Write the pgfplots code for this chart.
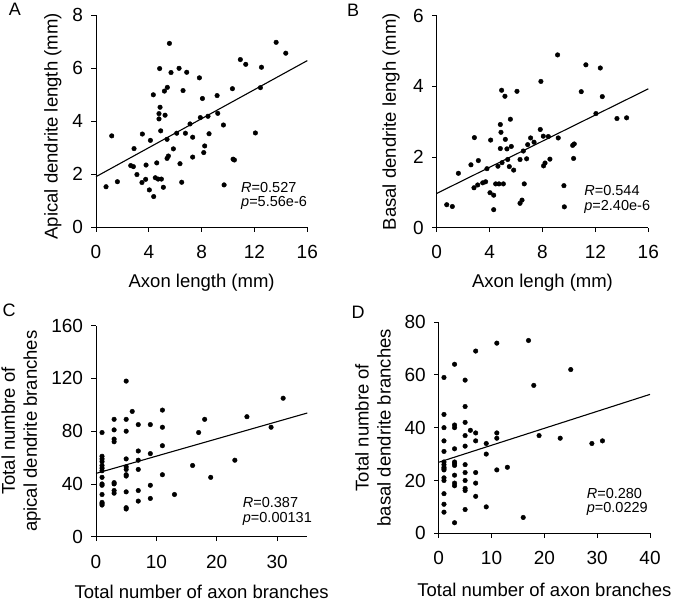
\documentclass[border=0pt]{standalone}
\usepackage{fontspec}
\setmainfont{Liberation Sans}
\usepackage{pgfplots}
\pgfplotsset{compat=1.18}
\pgfplotsset{panel/.style={
  scale only axis,
  anchor=south west,
  axis lines=left,
  axis line style={-, line width=0.9pt, black},
  tick align=outside,
  major tick length=4.5pt,
  tick style={line width=0.9pt, black},
  /pgf/number format/assume math mode=true,
  ticklabel style={font=\fontsize{19}{22}\selectfont},
  xticklabel style={yshift=-10pt},
  yticklabel style={xshift=-5pt},
  label style={font=\fontsize{18.5}{22}\selectfont},
  clip=false,
},
dots/.style={only marks, mark=*, mark size=2.3pt, black},
fit/.style={no marks, line width=1.1pt, black},
}
\tikzset{
ann/.style={anchor=base west, font=\fontsize{14.5}{16}\selectfont, inner sep=0pt},
plabel/.style={font=\fontsize{18}{20}\selectfont, inner sep=0pt},
}
\begin{document}
\begin{tikzpicture}
\path[use as bounding box] (0,0) rectangle (675pt,-601pt);
\node[plabel] at (15pt,-9pt) {A};
\node[plabel] at (353pt,-10pt) {B};
\node[plabel] at (9pt,-310pt) {C};
\node[plabel] at (358pt,-312pt) {D};
% ---------------- A
\begin{axis}[panel, at={(96pt,-227.3pt)}, width=211.3pt, height=212pt,
  xmin=0, xmax=16, ymin=0, ymax=8, xtick={0,4,8,12,16}, ytick={0,2,4,6,8},
  xlabel={Axon length (mm)}, ylabel={Apical dendrite length (mm)},
  xlabel style={at={(axis description cs:0.5,-0.263)}, anchor=center},
  ylabel style={at={(axis description cs:-0.204,0.476)}, anchor=center}]
\addplot[dots] coordinates {
(0.76,1.53) (1.19,3.45) (1.62,1.72) (2.63,2.33) (2.83,2.29) (2.88,2.97)
(3.10,1.99) (3.51,3.52) (3.48,1.69) (3.79,2.35) (3.76,1.81) (4.04,1.41)
(4.12,3.28) (4.34,5.00) (4.37,1.16) (4.49,1.87) (4.60,2.43) (4.70,1.82)
(4.82,5.99) (4.85,4.53) (4.77,4.29) (4.77,4.09) (4.90,3.64) (4.95,1.82)
(5.10,1.51) (5.18,5.14) (5.23,4.23) (5.40,5.28) (5.38,3.32) (5.38,2.60)
(5.48,2.69) (5.56,6.94) (5.68,5.84) (5.86,2.96) (6.11,3.55) (6.29,6.00)
(6.36,2.40) (6.49,1.70) (6.59,5.16) (6.77,3.55) (6.87,5.85) (7.12,3.90)
(7.32,3.40) (7.32,2.65) (7.83,5.64) (7.90,4.14) (8.06,4.86) (8.16,2.82)
(8.23,3.07) (8.48,4.19) (8.56,3.53) (9.17,4.97) (9.22,4.30) (9.65,3.86)
(9.70,1.60) (10.33,5.23) (10.38,2.57) (10.48,2.54) (10.93,6.33) (11.34,6.15)
(12.07,3.56) (12.45,5.27) (12.53,6.04) (13.64,6.98) (14.37,6.57)};
\addplot[fit] coordinates {(0,1.91) (16,6.29)};
\node[ann] at (axis cs:10.98,1.33) {\textit{R}=0.527};
\node[ann] at (axis cs:10.98,0.77) {\textit{p}=5.56e-6};
\end{axis}
% ---------------- B
\begin{axis}[panel, at={(436.7pt,-227.7pt)}, width=211.6pt, height=212pt,
  xmin=0, xmax=16, ymin=0, ymax=6, xtick={0,4,8,12,16}, ytick={0,2,4,6},
  xlabel={Axon lengh (mm)}, ylabel={Basal dendrite lengh (mm)},
  xlabel style={at={(axis description cs:0.5,-0.26)}, anchor=center},
  ylabel style={at={(axis description cs:-0.216,0.5)}, anchor=center}]
\addplot[dots] coordinates {
(0.76,0.65) (1.18,0.60) (1.64,1.54) (2.59,1.78) (2.82,1.13) (2.85,2.55)
(3.10,1.21) (3.15,1.90) (3.48,1.27) (3.70,1.30) (3.80,1.67) (4.03,0.99)
(4.08,2.48) (4.31,0.92) (4.31,0.51) (4.46,1.24) (4.63,1.74) (4.71,1.24)
(4.81,2.24) (4.81,2.92) (4.86,2.70) (4.91,3.89) (4.94,1.84) (5.04,1.24)
(5.16,3.72) (5.19,2.50) (5.31,2.23) (5.37,1.93) (5.49,1.73) (5.57,3.07)
(5.64,2.30) (5.82,1.63) (6.07,3.86) (6.30,1.93) (6.30,0.69) (6.45,0.78)
(6.55,2.17) (6.62,1.24) (6.80,1.95) (6.88,2.35) (7.10,2.54) (7.36,2.42)
(7.83,2.78) (7.88,4.14) (8.06,2.59) (8.08,1.75) (8.19,1.83) (8.44,2.58)
(8.56,1.94) (9.19,2.54) (9.14,4.89) (9.62,1.19) (9.65,0.59) (10.28,2.33)
(10.40,2.37) (10.35,1.96) (10.93,3.85) (11.28,4.61) (12.04,3.23) (12.37,4.52)
(12.52,3.71) (13.63,3.09) (14.36,3.11)};
\addplot[fit] coordinates {(0,0.97) (16,3.93)};
\node[ann] at (axis cs:11.15,0.917) {\textit{R}=0.544};
\node[ann] at (axis cs:11.15,0.49) {\textit{p}=2.40e-6};
\end{axis}
% ---------------- C
\begin{axis}[panel, at={(96pt,-536.7pt)}, width=211.3pt, height=211pt,
  xmin=0, xmax=35, ymin=0, ymax=160, xtick={0,10,20,30}, ytick={0,40,80,120,160},
  xlabel={Total number of axon branches},
  ylabel={Total numbre of\\apical dendrite branches},
  xlabel style={at={(axis description cs:0.5,-0.262)}, anchor=center},
  ylabel style={at={(axis description cs:-0.355,0.5)}, anchor=center, align=center}]
\addplot[dots] coordinates {
(1,79) (1,61) (1,59) (1,57) (1,54) (1,52) (1,50) (1,45) (1,40) (1,39) (1,32) (1,26) (1,25) (1,24)
(3,89) (3,81) (3,74) (3,72) (3,41) (3,40) (3,35) (3,33)
(5,118) (5,89) (5,80) (5,59) (5,53) (5,51) (5,47) (5,46) (5,34) (5,22) (5,21)
(6,95)
(7,85) (7,65) (7,58) (7,51) (7,35) (7,27)
(9,85) (9,63) (9,39) (9,29)
(11,96) (11,83) (11,69) (11,47)
(13,32) (16,54) (17,79) (18,89) (19,45) (23,58) (25,91) (29,83) (31,105)};
\addplot[fit] coordinates {(0,48) (35,93.8)};
\node[ann] at (axis cs:24.3,22.3) {\textit{R}=0.387};
\node[ann] at (axis cs:24.3,10.6) {\textit{p}=0.00131};
\end{axis}
% ---------------- D
\begin{axis}[panel, at={(438.7pt,-533.3pt)}, width=211.3pt, height=211.3pt,
  xmin=0, xmax=40, ymin=0, ymax=80, xtick={0,10,20,30,40}, ytick={0,20,40,60,80},
  xlabel={Total number of axon branches},
  ylabel={Total numbre of\\basal dendrite branches},
  xlabel style={at={(axis description cs:0.5,-0.268)}, anchor=center},
  ylabel style={at={(axis description cs:-0.311,0.5)}, anchor=center, align=center}]
\addplot[dots] coordinates {
(1,59) (1,45) (1,40) (1,35) (1,31) (1,27) (1,26) (1,25) (1,24.5) (1,24) (1,21) (1,20) (1,15) (1,11) (1,8)
(3,64) (3,41) (3,40) (3,32) (3,27) (3,26.4) (3,25.7) (3,22) (3,19) (3,18) (3,4)
(5,58) (5,48) (5,42) (5,37) (5,33) (5,26) (5,23) (5,20) (5,17) (5,16.2) (5,9)
(6,39)
(7,69) (7,38) (7,35) (7,23) (7,19) (7,14)
(9,34) (9,30) (9,10)
(11,72) (11,38) (11,36) (11,24)
(13,25) (16,6) (17,73) (18,56) (19,37) (23,36) (25,62) (29,34) (31,35)};
\addplot[fit] coordinates {(0,26.9) (40,52.6)};
\node[ann] at (axis cs:28.0,13.25) {\textit{R}=0.280};
\node[ann] at (axis cs:28.0,7.8) {\textit{p}=0.0229};
\end{axis}
\end{tikzpicture}
\end{document}
